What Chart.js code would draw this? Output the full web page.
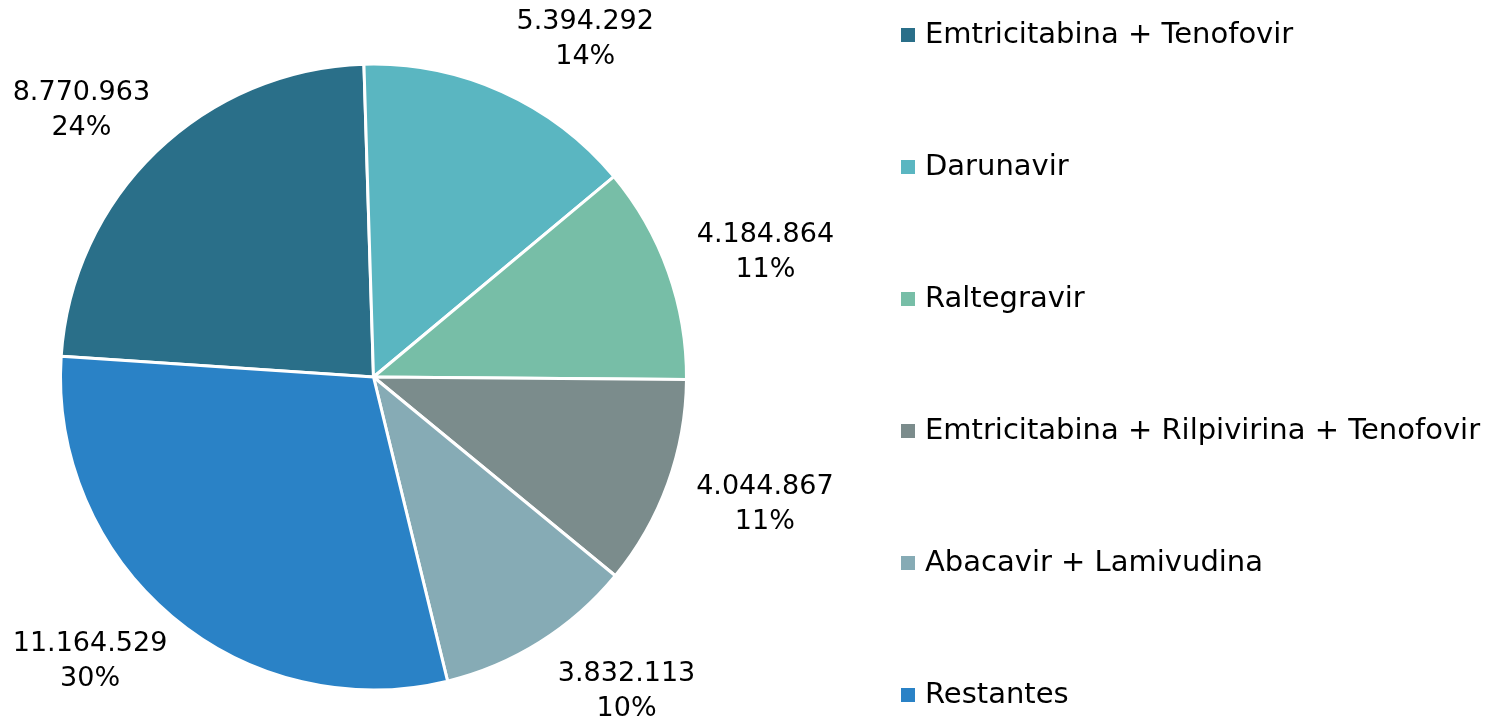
<!DOCTYPE html>
<html>
<head>
<meta charset="utf-8">
<script src="https://cdn.jsdelivr.net/npm/chart.js@4.4.0/dist/chart.umd.min.js"></script>
<style>
  html, body { margin: 0; padding: 0; background: #fff; }
  #wrap { width: 1496px; height: 722px; position: relative; }
</style>
</head>
<body>
<div id="wrap"><canvas id="pieChart"></canvas></div>
<script>
// Datos del gráfico
const categorias = [
  "Emtricitabina + Tenofovir",
  "Darunavir",
  "Raltegravir",
  "Emtricitabina + Rilpivirina + Tenofovir",
  "Abacavir + Lamivudina",
  "Restantes"
];
const valores = [8770963, 5394292, 4184864, 4044867, 3832113, 11164529];
// porcentajes tal como aparecen en las etiquetas
const porcentajes = ["24%", "14%", "11%", "11%", "10%", "30%"];
const colores = ["#2A6F89", "#5AB6C1", "#77BEA7", "#7B8C8C", "#86ABB5", "#2A82C6"];

const fuente = "'DejaVu Sans', sans-serif";

function formatoMiles(n) {
  return n.toString().replace(/\B(?=(\d{3})+(?!\d))/g, ".");
}

// Etiquetas de datos (valor + porcentaje) fuera del pastel
const etiquetasPlugin = {
  id: "etiquetas",
  afterDatasetsDraw(chart) {
    const ctx = chart.ctx;
    const meta = chart.getDatasetMeta(0);
    ctx.save();
    ctx.font = "27px " + fuente;
    ctx.fillStyle = "#000";
    ctx.textAlign = "center";
    ctx.textBaseline = "middle";
    meta.data.forEach((arc, i) => {
      const p = arc.getProps(["x", "y", "startAngle", "endAngle", "outerRadius"], true);
      const mid = (p.startAngle + p.endAngle) / 2;
      const dx = Math.cos(mid), dy = Math.sin(mid);
      const l1 = formatoMiles(valores[i]);
      const l2 = porcentajes[i];
      const w = Math.max(ctx.measureText(l1).width, ctx.measureText(l2).width);
      const h = 64;
      const r = p.outerRadius + 26;
      // las etiquetas del lado izquierdo quedan algo más pegadas al pastel
      const x = p.x + dx * r + (dx > 0 ? w / 2 + 4 : -w / 2 + 12);
      const y = p.y + dy * r + dy * h / 2;
      ctx.fillText(l1, x, y - 17);
      ctx.fillText(l2, x, y + 18);
    });
    ctx.restore();
  }
};

// Leyenda a la derecha
const leyendaPlugin = {
  id: "leyenda",
  afterDraw(chart) {
    const ctx = chart.ctx;
    ctx.save();
    ctx.font = "29px " + fuente;
    ctx.textBaseline = "middle";
    ctx.textAlign = "left";
    categorias.forEach((c, i) => {
      const y = 35 + i * 132;
      ctx.fillStyle = colores[i];
      ctx.fillRect(901, y - 7, 14, 14);
      ctx.fillStyle = "#000";
      ctx.fillText(c, 925, y);
    });
    ctx.restore();
  }
};

new Chart(document.getElementById("pieChart").getContext("2d"), {
  type: "pie",
  data: {
    labels: categorias,
    datasets: [{
      data: valores,
      backgroundColor: colores,
      borderColor: "#fff",
      borderWidth: 3
    }]
  },
  options: {
    responsive: true,
    maintainAspectRatio: false,
    animation: false,
    rotation: -86.2,
    layout: { padding: { left: 59, right: 808, top: 62, bottom: 30 } },
    plugins: {
      legend: { display: false },
      tooltip: { enabled: false }
    }
  },
  plugins: [etiquetasPlugin, leyendaPlugin]
});
</script>
</body>
</html>
